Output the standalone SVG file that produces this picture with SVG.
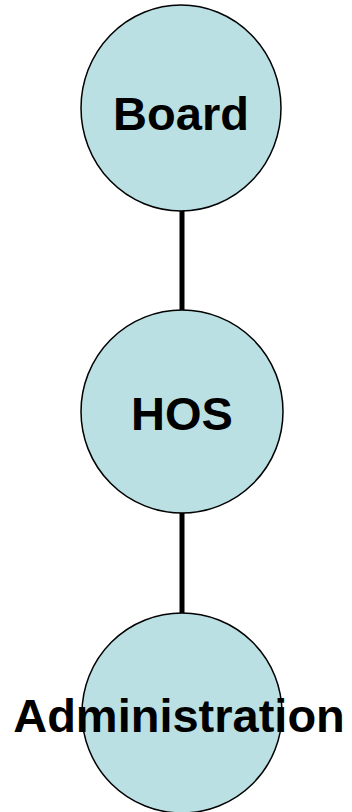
<svg xmlns="http://www.w3.org/2000/svg" width="352" height="812" viewBox="0 0 352 812">
<style>
.node{fill:#bbe0e3;stroke:#000;stroke-width:1.5}
.lbl{font-family:"Liberation Sans",Arial,sans-serif;font-weight:bold;font-size:47px;fill:#000;text-anchor:middle}
.conn{stroke:#000;stroke-width:5;fill:none}
</style>
<rect width="352" height="812" fill="#fff"/>
<g id="connectors">
<line class="conn" x1="182" y1="210" x2="182" y2="311"/>
<line class="conn" x1="182" y1="512" x2="182" y2="614"/>
</g>
<g id="board">
<ellipse class="node" cx="181" cy="108" rx="100" ry="103"/>
<text class="lbl" x="181" y="130">Board</text>
</g>
<g id="hos">
<ellipse class="node" cx="182" cy="411.5" rx="101" ry="101.5"/>
<text class="lbl" x="182" y="430">HOS</text>
</g>
<g id="administration">
<ellipse class="node" cx="182" cy="713" rx="100" ry="100"/>
<text class="lbl" x="179" y="732">Administration</text>
</g>
</svg>
